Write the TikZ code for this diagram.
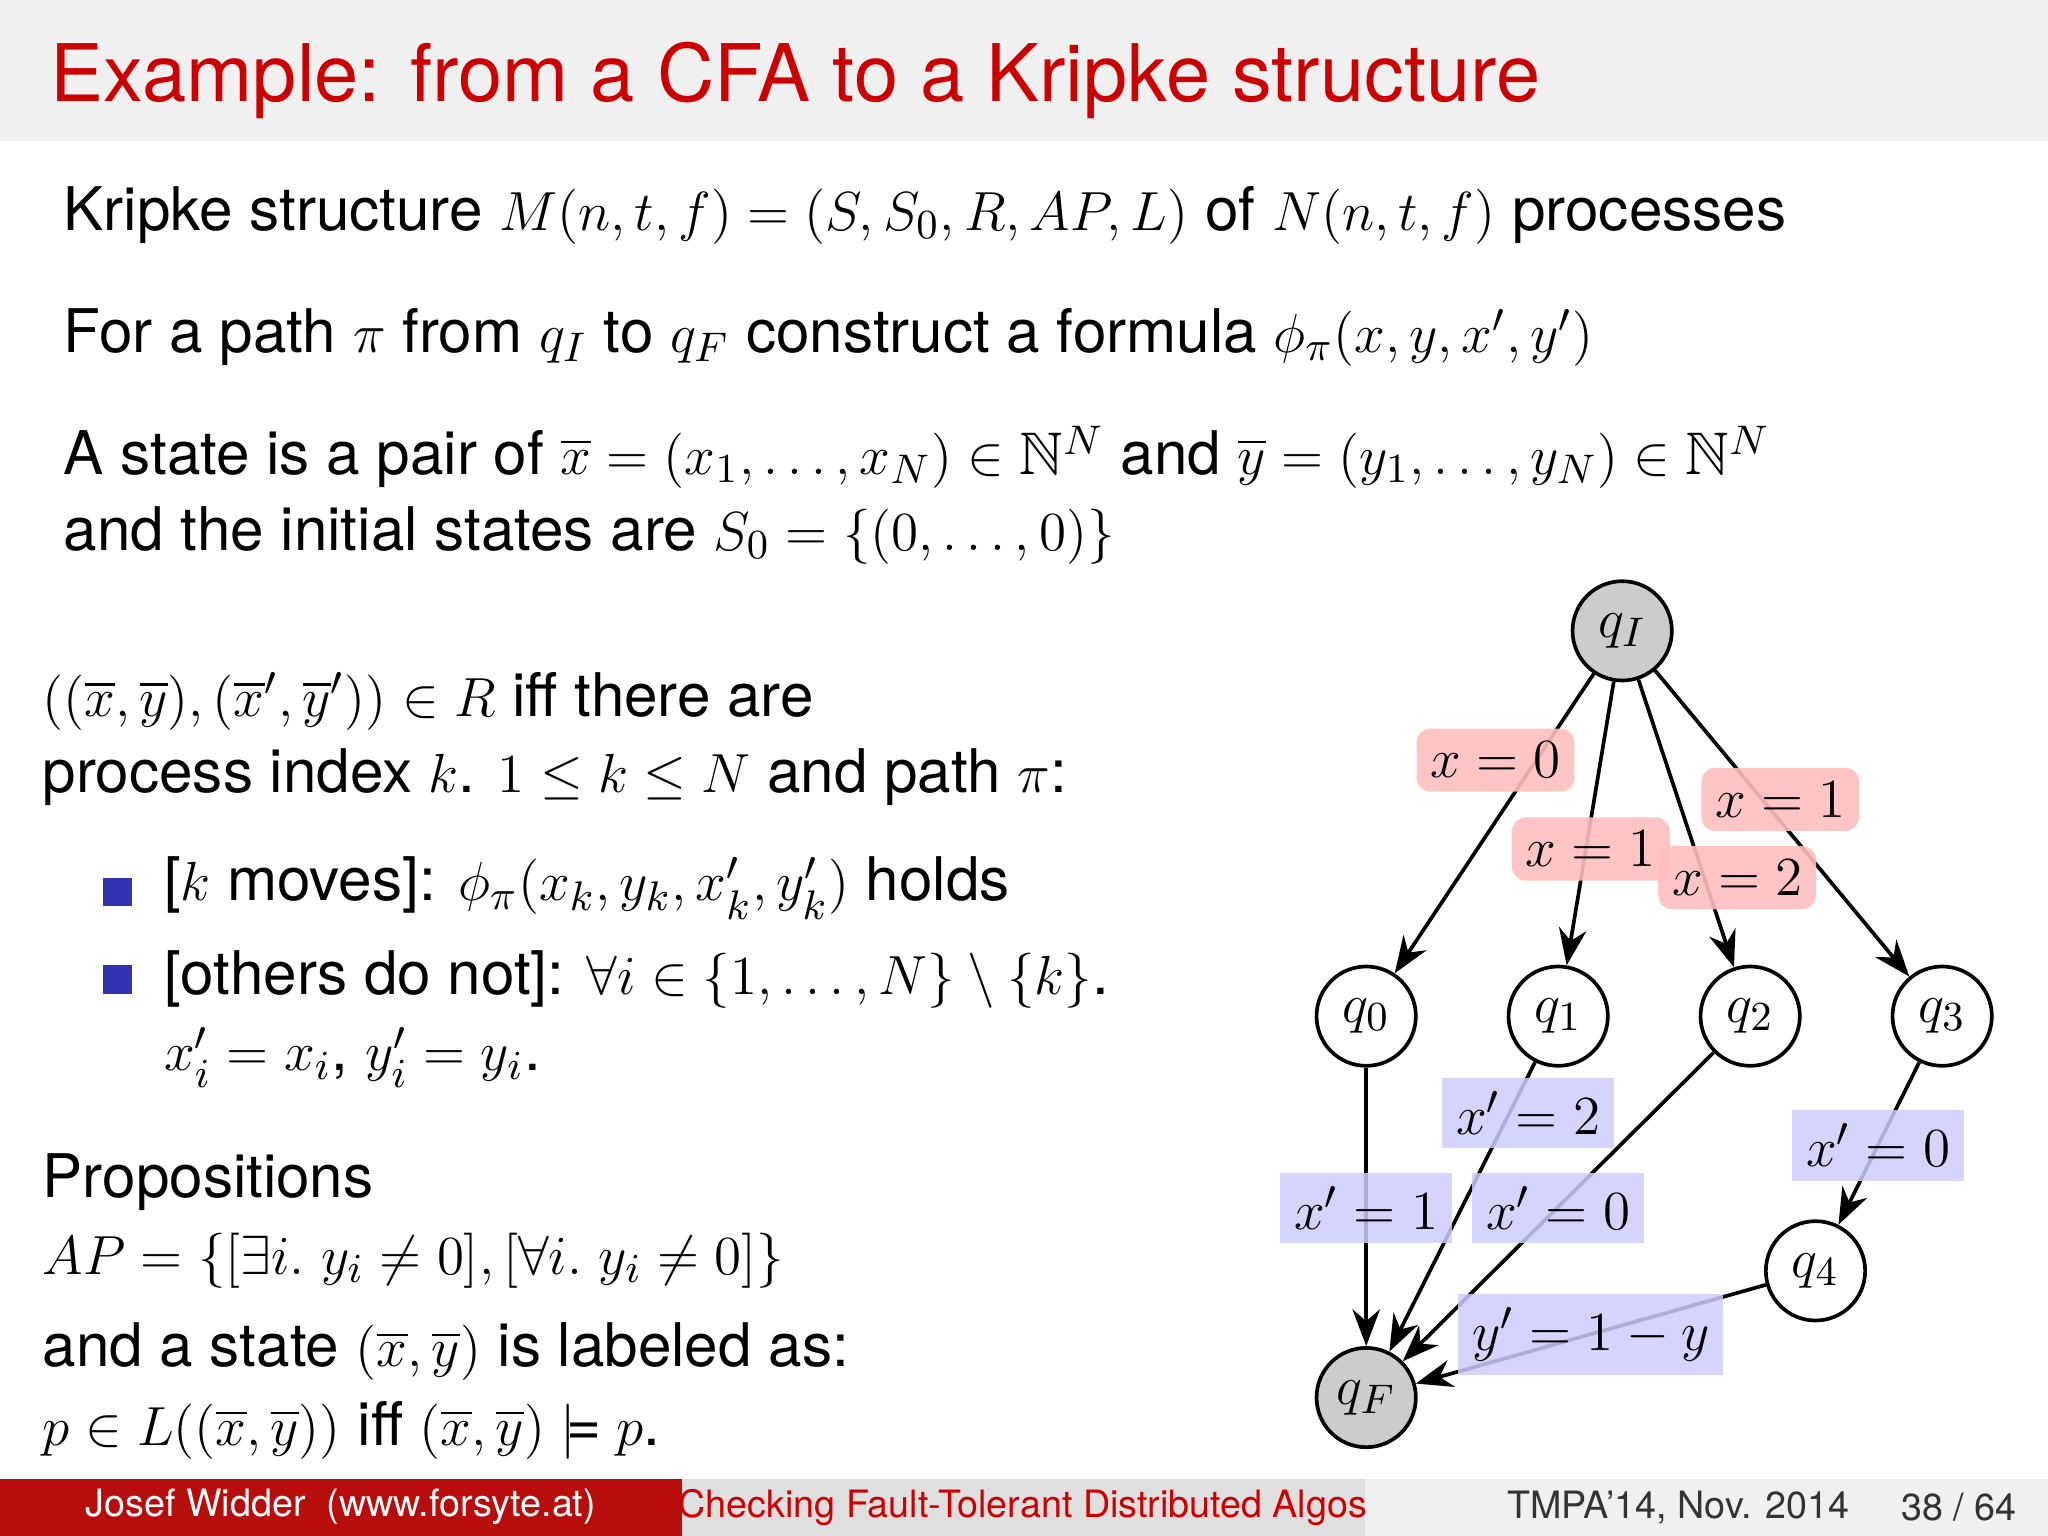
\documentclass[tikz,border=0pt]{standalone}
\usepackage{amsmath,amssymb}
\usepackage{fontspec}
\setmainfont{TeX Gyre Heros}
\usetikzlibrary{arrows.meta}
\definecolor{titlered}{HTML}{CC0000}
\definecolor{footred}{HTML}{B80D0D}
\definecolor{bulletblue}{HTML}{3333B2}
\tikzset{
  st/.style={circle,draw,thick,minimum size=0.76cm,inner sep=0pt,font=\fontsize{12.5}{15}\selectfont},
  init/.style={st,fill=gray!40},
  edge/.style={thick,-{Stealth[length=8pt,width=6pt]}},
  rl/.style={fill=red!25,rounded corners=3pt,inner sep=3pt,font=\fontsize{12.3}{15}\selectfont,fill opacity=0.9,text opacity=1},
  bl/.style={fill=blue!20,inner sep=3pt,font=\fontsize{12.3}{15}\selectfont,fill opacity=0.85,text opacity=1},
  txt/.style={anchor=west,inner sep=0pt,font=\fontsize{13.1}{16}\selectfont},
  bul/.style={fill=bulletblue,minimum size=0.22cm,inner sep=0pt},
  ft/.style={inner sep=0pt,font=\fontsize{8.2}{10}\selectfont}
}
\begin{document}
\begin{tikzpicture}[x=0.01cm,y=-0.01cm]
\useasboundingbox (0,0) rectangle (1568,1176);
\fill[gray!12] (0,0) rectangle (1568,108);
\node[anchor=west,inner sep=0pt,text=titlered,font=\fontsize{17.3}{21}\selectfont] (title) at (38,62) {Example: from a CFA to a Kripke structure};
\node[txt] (l1) at (48,165) {Kripke structure $M(n,t,f)=(S,S_0,R,AP,L)$ of $N(n,t,f)$ processes};
\node[txt] (l2) at (48,258) {For a path $\pi$ from $q_I$ to $q_F$ construct a formula $\phi_\pi(x,y,x',y')$};
\node[txt] (l3) at (48,350) {A state is a pair of $\overline{x}=(x_1,\ldots,x_N)\in\mathbb{N}^N$ and $\overline{y}=(y_1,\ldots,y_N)\in\mathbb{N}^N$};
\node[txt] (l4) at (48,410) {and the initial states are $S_0=\{(0,\ldots,0)\}$};
\node[txt] (l5) at (32,537) {$((\overline{x},\overline{y}),(\overline{x}',\overline{y}'))\in R$ iff there are};
\node[txt] (l6) at (32,595) {process index $k$. $1\le k\le N$ and path $\pi$:};
\node[bul] (b1) at (90,683) {};
\node[bul] (b2) at (90,750) {};
\node[txt] (l7) at (125,680) {[$k$ moves]: $\phi_\pi(x_k,y_k,x'_k,y'_k)$ holds};
\node[txt] (l8) at (125,750) {[others do not]: $\forall i\in\{1,\ldots,N\}\setminus\{k\}$.};
\node[txt] (l9) at (125,810) {$x'_i=x_i$, $y'_i=y_i$.};
\node[txt] (l10) at (32,905) {Propositions};
\node[txt] (l11) at (32,965) {$AP=\{[\exists i.\ y_i\neq 0],[\forall i.\ y_i\neq 0]\}$};
\node[txt] (l12) at (32,1035) {and a state $(\overline{x},\overline{y})$ is labeled as:};
\node[txt] (l13) at (32,1095) {$p\in L((\overline{x},\overline{y}))$ iff $(\overline{x},\overline{y})\models p$.};
% graph
\node[init] (qI) at (1242,483) {$q_I$};
\node[st] (q0) at (1046,778) {$q_0$};
\node[st] (q1) at (1193,778) {$q_1$};
\node[st] (q2) at (1340,778) {$q_2$};
\node[st] (q3) at (1487,778) {$q_3$};
\node[st] (q4) at (1390,973) {$q_4$};
\node[init] (qF) at (1046,1070) {$q_F$};
\draw[edge] (qI) -- (q0);
\draw[edge] (qI) -- (q1);
\draw[edge] (qI) -- (q2);
\draw[edge] (qI) -- (q3);
\draw[edge] (q0) -- (qF);
\draw[edge] (q1) -- (qF);
\draw[edge] (q2) -- (qF);
\draw[edge] (q3) -- (q4);
\draw[edge] (q4) -- (qF);
\node[rl] (e1) at (1145,582) {$x=0$};
\node[rl] (e4) at (1363,612) {$x=1$};
\node[rl] (e2) at (1218,650) {$x=1$};
\node[rl] (e3) at (1330,672) {$x=2$};
\node[bl] (e6) at (1170,852) {$x'=2$};
\node[bl] (e5) at (1046,925) {$x'=1$};
\node[bl] (e7) at (1193,925) {$x'=0$};
\node[bl] (e8) at (1438,877) {$x'=0$};
\node[bl] (e9) at (1218,1022) {$y'=1-y$};
% footer
\fill[footred] (0,1132) rectangle (522,1176);
\fill[gray!25] (522,1132) rectangle (1045,1176);
\fill[gray!12] (1045,1132) rectangle (1568,1176);
\node[ft,text=white] (f1) at (261,1154) {Josef Widder\ \ (www.forsyte.at)};
\node[ft,text=titlered] (f2) at (783,1154) {Checking Fault-Tolerant Distributed Algos};
\node[ft,text=black!80] (f3) at (1285,1154) {TMPA'14, Nov. 2014};
\node[ft,text=black!80] (f4) at (1500,1154) {38 / 64};
\end{tikzpicture}
\end{document}
